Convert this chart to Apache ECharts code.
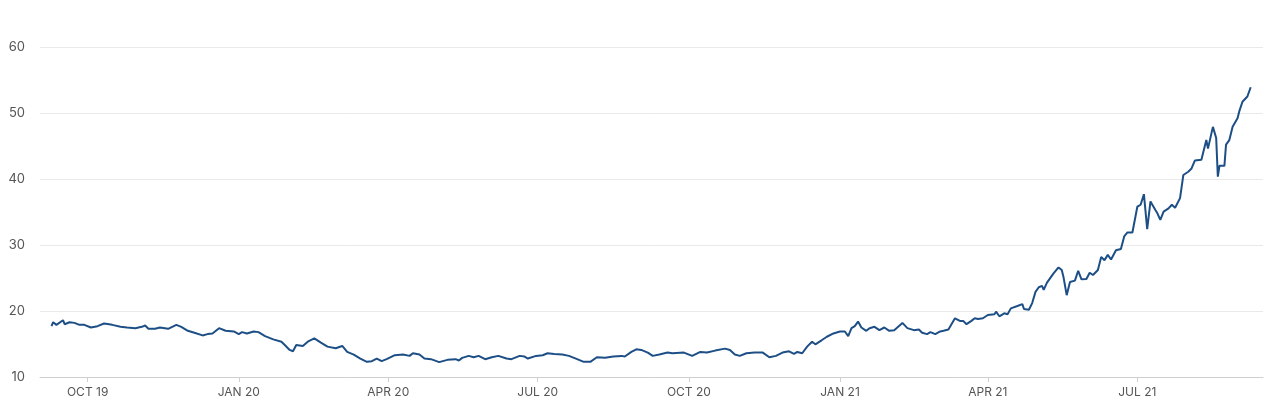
<!DOCTYPE html>
<html>
<head>
<meta charset="utf-8">
<script src="https://cdn.jsdelivr.net/npm/echarts@6/dist/echarts.min.js"></script>
<style>
html,body{margin:0;padding:0;background:#fff;}
#chart{width:1280px;height:410px;}
</style>
</head>
<body>
<div id="chart"></div>
<script>
// Day offsets relative to 2019-10-01
const dayOffsets = [
-22,-21,-19,-18,-15,-14,-11,-8,-5,-2,2,6,10,15,20,24,29,33,35,37,41,44,49,54,57,61,65,70,73,76,80,84,89,92,94,97,
101,104,108,113,118,120,123,125,127,131,134,138,142,146,151,155,158,162,166,170,173,176,179,182,187,192,196,198,202,205,209,214,
219,224,226,228,232,235,238,242,246,250,255,258,263,266,268,273,277,280,284,289,293,298,302,306,310,315,320,325,327,331,334,337,341,
344,348,353,356,363,368,373,377,382,388,391,394,397,401,406,411,415,419,423,427,430,432,435,438,441,443,447,450,454,458,461,
463,465,467,469,471,474,476,479,482,485,488,491,496,499,503,506,508,511,513,516,519,521,524,528,531,533,535,538,540,542,545,
548,552,553,555,558,560,562,566,569,570,573,575,577,579,581,582,584,585,588,591,593,594,596,598,601,603,605,608,610,612,615,
617,619,621,623,626,629,631,633,636,639,641,643,645,647,650,651,653,655,658,660,662,665,667,670,672,674,678,679,681,682,685,
687,688,689,692,693,695,697,700,701,703,704,706,708
];
const values = [
17.7,18.3,17.9,18.1,18.6,18.0,18.3,18.2,17.9,17.9,17.5,17.7,18.1,17.9,17.6,17.5,17.4,17.6,17.8,17.3,17.3,17.5,17.3,17.9,17.6,17.0,16.7,16.3,16.5,16.6,17.4,17.0,16.9,16.5,16.8,16.6,
16.9,16.8,16.2,15.7,15.35,14.85,14.1,13.9,14.85,14.7,15.35,15.85,15.2,14.6,14.35,14.7,13.8,13.4,12.8,12.3,12.4,12.8,12.4,12.7,13.3,13.4,13.2,13.6,13.4,12.8,12.7,12.25,
12.6,12.7,12.5,12.9,13.2,13.0,13.2,12.7,13.0,13.2,12.8,12.7,13.2,13.1,12.8,13.2,13.3,13.6,13.5,13.4,13.2,12.7,12.3,12.3,13.0,12.9,13.1,13.2,13.1,13.8,14.2,14.1,13.7,
13.2,13.4,13.7,13.6,13.7,13.2,13.8,13.7,14.0,14.3,14.1,13.4,13.2,13.6,13.7,13.7,13.0,13.2,13.7,13.9,13.5,13.8,13.6,14.6,15.35,14.95,15.6,16.1,16.6,16.9,16.9,
16.2,17.4,17.7,18.4,17.5,17.0,17.4,17.6,17.1,17.5,17.0,17.1,18.2,17.4,17.1,17.2,16.7,16.5,16.8,16.5,16.9,17.0,17.2,18.9,18.5,18.5,18.0,18.5,18.9,18.8,18.9,
19.4,19.5,19.9,19.2,19.65,19.5,20.4,20.75,21.05,20.3,20.2,21.2,22.9,23.6,23.8,23.2,24.3,24.3,25.7,26.6,26.2,25.2,22.4,24.4,24.6,26.1,24.8,24.85,25.8,25.45,26.2,
28.2,27.7,28.5,27.8,29.2,29.4,31.3,31.9,31.9,35.8,36.1,37.7,32.4,36.6,35.3,34.9,33.8,35.05,35.55,36.1,35.65,37.1,40.6,41.1,41.6,42.8,42.9,42.8,45.9,44.6,47.9,
46.2,40.35,42.0,42.0,45.2,45.9,47.9,49.2,50.2,51.7,51.5,52.5,53.9
];
const tickDates = ['2019-10-01','2020-01-01','2020-04-01','2020-07-01','2020-10-01','2021-01-01','2021-04-01','2021-07-01'];
const tickLabels = ['OCT 19','JAN 20','APR 20','JUL 20','OCT 20','JAN 21','APR 21','JUL 21'];
const yMin = 10, yMax = 60, yInterval = 10;

const DAY = 86400000;
const base = Date.UTC(2019, 9, 1);
const parse = s => { const p = s.split('-').map(Number); return Date.UTC(p[0], p[1]-1, p[2]); };
const tickTs = tickDates.map(parse);
const seriesData = dayOffsets.map((d, i) => [base + d * DAY, values[i]]);

const chart = echarts.init(document.getElementById('chart'), null, {renderer: 'canvas'});
chart.setOption({
  animation: false,
  grid: {left: 40, right: 17, top: 47, bottom: 33, containLabel: false},
  xAxis: {
    type: 'value',
    min: Date.UTC(2019, 8, 2),
    max: Date.UTC(2021, 8, 15, 12),
    axisLine: {show: true, lineStyle: {color: '#cfcfcf', width: 1}},
    axisTick: {show: true, customValues: tickTs, length: 5, lineStyle: {color: '#cfcfcf'}},
    splitLine: {show: false},
    axisLabel: {
      customValues: tickTs,
      margin: 9,
      color: '#555',
      fontSize: 12,
      fontFamily: 'Inter, "Noto Sans", sans-serif',
      formatter: v => { const i = tickTs.indexOf(v); return i >= 0 ? tickLabels[i] : ''; }
    }
  },
  yAxis: {
    type: 'value',
    min: yMin, max: yMax, interval: yInterval,
    axisLine: {show: false},
    axisTick: {show: false},
    splitLine: {lineStyle: {color: '#e9e9e9', width: 1}},
    axisLabel: {color: '#555', fontSize: 13, margin: 15, fontFamily: 'Inter, "Noto Sans", sans-serif'}
  },
  series: [{
    type: 'line',
    data: seriesData,
    showSymbol: false,
    lineStyle: {color: '#1d4f86', width: 2},
    itemStyle: {color: '#1d4f86'}
  }]
});
</script>
</body>
</html>
